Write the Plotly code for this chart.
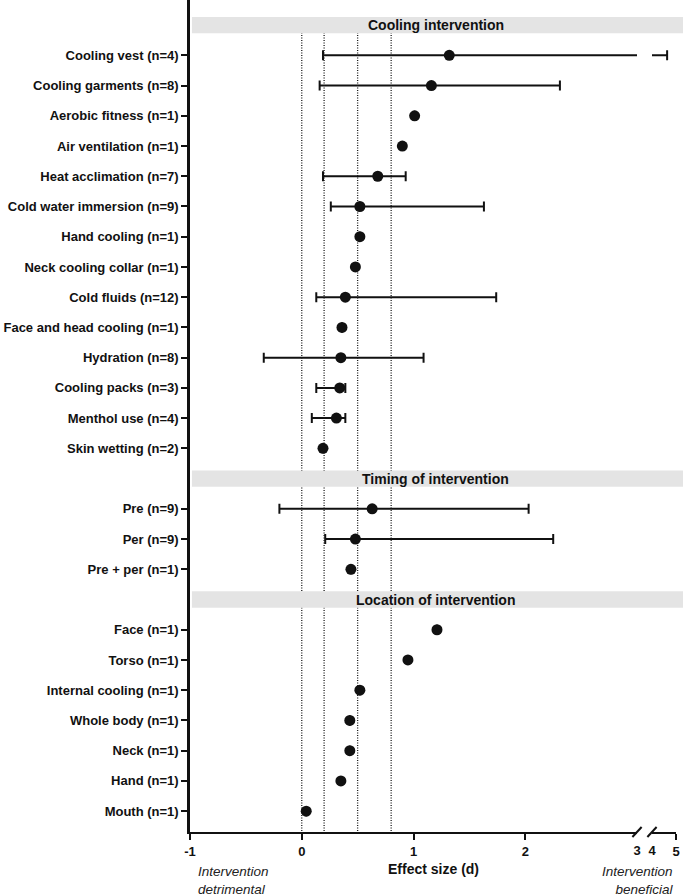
import plotly.graph_objects as go

# ---------------- data ----------------
group_titles = ["Cooling intervention", "Timing of intervention", "Location of intervention"]

cooling_labels = ["Cooling vest (n=4)", "Cooling garments (n=8)", "Aerobic fitness (n=1)",
                  "Air ventilation (n=1)", "Heat acclimation (n=7)", "Cold water immersion (n=9)",
                  "Hand cooling (n=1)", "Neck cooling collar (n=1)", "Cold fluids (n=12)",
                  "Face and head cooling (n=1)", "Hydration (n=8)", "Cooling packs (n=3)",
                  "Menthol use (n=4)", "Skin wetting (n=2)"]
cooling_d = [1.32, 1.16, 1.01, 0.90, 0.68, 0.52, 0.52, 0.48, 0.39, 0.36, 0.35, 0.34, 0.31, 0.19]
cooling_lo = [0.19, 0.16, None, None, 0.19, 0.26, None, None, 0.13, None, -0.34, 0.13, 0.09, None]
cooling_hi = [4.63, 2.31, None, None, 0.93, 1.63, None, None, 1.74, None, 1.09, 0.39, 0.39, None]

timing_labels = ["Pre (n=9)", "Per (n=9)", "Pre + per (n=1)"]
timing_d = [0.63, 0.48, 0.44]
timing_lo = [-0.20, 0.21, None]
timing_hi = [2.03, 2.25, None]

location_labels = ["Face (n=1)", "Torso (n=1)", "Internal cooling (n=1)", "Whole body (n=1)",
                   "Neck (n=1)", "Hand (n=1)", "Mouth (n=1)"]
location_d = [1.21, 0.95, 0.52, 0.43, 0.43, 0.35, 0.04]
location_lo = [None] * 7
location_hi = [None] * 7

ref_lines = [0, 0.2, 0.5, 0.8]

x_ticks_main = [-1, 0, 1, 2]
x_tick_break_lo = [3]
x_tick_break_hi = [4]
x_ticks_upper = [5]

x_title = "Effect size (d)"
left_note = "Intervention<br>detrimental"
right_note = "Intervention<br>beneficial"

# ---------------- layout of rows ----------------
groups = [
    (cooling_labels, cooling_d, cooling_lo, cooling_hi),
    (timing_labels, timing_d, timing_lo, timing_hi),
    (location_labels, location_d, location_lo, location_hi),
]

header_slots = []
row_slots, row_labels, row_d, row_lo, row_hi = [], [], [], [], []
s = 0
for labels, d, lo, hi in groups:
    header_slots.append(s)
    s += 1
    for i in range(len(labels)):
        row_slots.append(s)
        row_labels.append(labels[i])
        row_d.append(d[i])
        row_lo.append(lo[i])
        row_hi.append(hi[i])
        s += 1
last_slot = s - 1

y_rows = [-v for v in row_slots]
plus = [(h - d) if h is not None else None for d, h in zip(row_d, row_hi)]
minus = [(d - l) if l is not None else None for d, l in zip(row_d, row_lo)]

Y_BOTTOM = -(last_slot + 0.69)
Y_TOP = 0.83

# points beyond the break (upper CI continues on second axis)
ext_idx = [i for i, h in enumerate(row_hi) if h is not None and h > 3]
ext_x = [row_hi[i] for i in ext_idx]
ext_y = [y_rows[i] for i in ext_idx]
ext_minus = [row_hi[i] - row_lo[i] for i in ext_idx]

FONT = "Liberation Sans, Arial, sans-serif"
BLACK = "#111111"

fig = go.Figure()

fig.add_trace(go.Scatter(
    x=row_d, y=y_rows, mode="markers",
    marker=dict(symbol="circle", size=11, color=BLACK),
    error_x=dict(type="data", symmetric=False, array=plus, arrayminus=minus,
                 color=BLACK, thickness=2, width=5),
    xaxis="x", yaxis="y", showlegend=False, cliponaxis=True, hoverinfo="skip",
))

fig.add_trace(go.Scatter(
    x=ext_x, y=ext_y, mode="markers",
    marker=dict(size=1, color="rgba(0,0,0,0)"),
    error_x=dict(type="data", symmetric=False, array=[0] * len(ext_x), arrayminus=ext_minus,
                 color=BLACK, thickness=2, width=5),
    xaxis="x2", yaxis="y", showlegend=False, cliponaxis=True, hoverinfo="skip",
))

# invisible traces for label-only overlay axes
fig.add_trace(go.Scatter(x=[], y=[], xaxis="x3", yaxis="y", showlegend=False))
fig.add_trace(go.Scatter(x=[], y=[], xaxis="x4", yaxis="y", showlegend=False))

D1 = [0, 0.9198]
D2 = [0.9506, 1.0]

tickfont = dict(family=FONT, size=13, color=BLACK, weight="bold")

common_x = dict(showgrid=False, zeroline=False, automargin=False, tickfont=tickfont,
                anchor="y", ticklabeloverflow="allow")

fig.update_layout(
    width=685, height=896,
    margin=dict(l=190, r=9, t=0, b=64, autoexpand=False),
    paper_bgcolor="white", plot_bgcolor="white",
    showlegend=False,
    xaxis=dict(domain=D1, range=[-1, 3], tickvals=x_ticks_main, ticktext=[str(v) for v in x_ticks_main],
               showline=True, linecolor=BLACK, linewidth=2,
               ticks="outside", ticklen=6, tickwidth=2, tickcolor=BLACK, **common_x),
    xaxis2=dict(domain=D2, range=[4, 5], tickvals=x_ticks_upper, ticktext=[str(v) for v in x_ticks_upper],
                showline=True, linecolor=BLACK, linewidth=2,
                ticks="outside", ticklen=6, tickwidth=2, tickcolor=BLACK, **common_x),
    xaxis3=dict(domain=D1, range=[-1, 3], overlaying="x", tickvals=x_tick_break_lo,
                ticktext=[str(v) for v in x_tick_break_lo], ticks="outside", ticklen=6,
                tickcolor="rgba(0,0,0,0)", showline=False, side="bottom", **common_x),
    xaxis4=dict(domain=D2, range=[4, 5], overlaying="x2", tickvals=x_tick_break_hi,
                ticktext=[str(v) for v in x_tick_break_hi], ticks="outside", ticklen=6,
                tickcolor="rgba(0,0,0,0)", showline=False, side="bottom", **common_x),
    yaxis=dict(range=[Y_BOTTOM, Y_TOP], tickvals=y_rows, ticktext=row_labels,
               showgrid=False, zeroline=False, showline=True, linecolor=BLACK, linewidth=2.5,
               ticks="outside", ticklen=6, tickwidth=2, tickcolor=BLACK, tickfont=tickfont,
               anchor="x", automargin=False, ticklabeloverflow="allow"),
)

shapes = []
# dotted reference lines
for v in ref_lines:
    shapes.append(dict(type="line", xref="x", yref="y", x0=v, x1=v,
                       y0=-header_slots[0], y1=Y_BOTTOM,
                       line=dict(color="#1a1a1a", width=1.3, dash="1px,1.5px"), layer="below"))
# header bands
for hs in header_slots:
    shapes.append(dict(type="rect", xref="paper", yref="y", x0=0.004, x1=1.0144,
                       y0=-hs - 0.27, y1=-hs + 0.27, fillcolor="#e4e4e4",
                       line=dict(width=0), layer="above"))
# axis break marks
for xd in [D1[1], D2[0]]:
    shapes.append(dict(type="line", xref="paper", yref="paper",
                       x0=xd - 0.0095, x1=xd + 0.0095, y0=-0.006, y1=0.006,
                       line=dict(color=BLACK, width=2)))
fig.update_layout(shapes=shapes)

annotations = []
for hs, t in zip(header_slots, group_titles):
    annotations.append(dict(text=t, xref="paper", yref="y", x=0.506, y=-hs,
                            showarrow=False, xanchor="center", yanchor="middle",
                            font=dict(family=FONT, size=14, color=BLACK, weight="bold")))
annotations.append(dict(text=x_title, xref="paper", yref="paper", x=0.5, y=-0.033,
                        showarrow=False, xanchor="center", yanchor="top",
                        font=dict(family=FONT, size=14, color=BLACK, weight="bold")))
annotations.append(dict(text=left_note, xref="paper", yref="paper", x=0.012, y=-0.036,
                        showarrow=False, xanchor="left", yanchor="top", align="left",
                        font=dict(family=FONT, size=13.5, color="#222222", style="italic")))
annotations.append(dict(text=right_note, xref="paper", yref="paper", x=1.0, y=-0.036,
                        showarrow=False, xanchor="right", yanchor="top", align="right",
                        font=dict(family=FONT, size=13.5, color="#222222", style="italic")))
fig.update_layout(annotations=annotations)

fig.write_html("out.html", config={"displayModeBar": False},
               post_script="document.body.style.margin='0';")
